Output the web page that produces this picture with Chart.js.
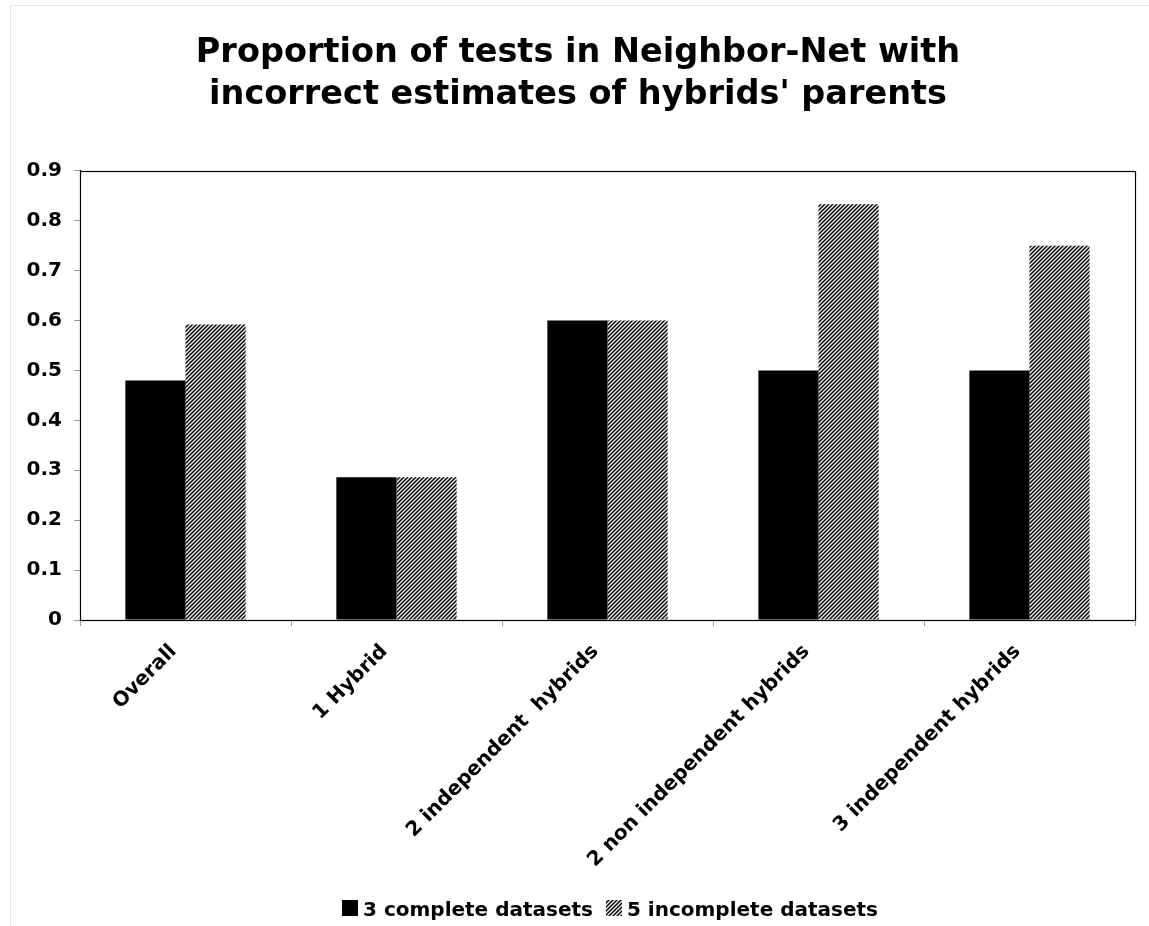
<!DOCTYPE html>
<html>
<head>
<meta charset="utf-8">
<script src="https://cdn.jsdelivr.net/npm/chart.js@4.4.1/dist/chart.umd.min.js"></script>
<style>
  html, body { margin: 0; padding: 0; background: #ffffff; }
  #wrap { width: 1149px; height: 926px; position: relative; }
</style>
</head>
<body>
<div id="wrap"><canvas id="chart" width="1149" height="926"></canvas></div>
<script>
// Categories, series and tick labels
const categories = [
  'Overall',
  '1 Hybrid',
  '2 independent  hybrids',
  '2 non independent hybrids',
  '3 independent hybrids'
];
const completeValues = [0.48, 0.286, 0.6, 0.5, 0.5];
const incompleteValues = [0.592, 0.286, 0.6, 0.833, 0.75];
const seriesNames = ['3 complete datasets', '5 incomplete datasets'];
const yTickLabels = ['0', '0.1', '0.2', '0.3', '0.4', '0.5', '0.6', '0.7', '0.8', '0.9'];
const titleLines = ['Proportion of tests in Neighbor-Net with', "incorrect estimates of hybrids' parents"];

const FONT = "'DejaVu Sans', Verdana, sans-serif";

// Diagonal hatch fill for the second series
function makeHatch() {
  const c = document.createElement('canvas');
  c.width = 4; c.height = 4;
  const g = c.getContext('2d');
  const shades = ['#000000', '#7a7a7a', '#e8e8e8', '#7a7a7a'];
  for (let y = 0; y < 4; y++) {
    for (let x = 0; x < 4; x++) {
      g.fillStyle = shades[(x + y) % 4];
      g.fillRect(x, y, 1, 1);
    }
  }
  return g.createPattern(c, 'repeat');
}

const ctx = document.getElementById('chart').getContext('2d');
const hatch = makeHatch();

// Frame around the whole figure and box around the plot area
const framePlugin = {
  id: 'frames',
  beforeDraw(chart) {
    const g = chart.ctx;
    g.save();
    g.fillStyle = '#ffffff';
    g.fillRect(0, 0, chart.width, chart.height);
    g.strokeStyle = '#e6e6e6';
    g.lineWidth = 1;
    g.strokeRect(10.5, 5.5, chart.width, chart.height);
    g.restore();
  },
  afterDatasetsDraw(chart) {
    const a = chart.chartArea;
    const g = chart.ctx;
    g.save();
    g.strokeStyle = '#000000';
    g.lineWidth = 1.2;
    g.strokeRect(Math.round(a.left) + 0.5, Math.round(a.top) + 0.5,
                 Math.round(a.right - a.left), Math.round(a.bottom - a.top));
    g.restore();
  }
};

// Legend row under the axis labels, built from the datasets
const legendRow = {
  id: 'legendRow',
  afterDraw(chart) {
    const g = chart.ctx;
    g.save();
    g.font = 'bold 20px ' + FONT;
    g.textBaseline = 'alphabetic';
    g.textAlign = 'left';
    let x = 342;
    const boxTop = 900, box = 16, baseline = 916;
    chart.data.datasets.forEach((ds) => {
      g.fillStyle = ds.backgroundColor;
      g.fillRect(x, boxTop, box, box);
      g.fillStyle = '#000000';
      g.fillText(ds.label, x + box + 5, baseline);
      x += box + 5 + g.measureText(ds.label).width + 13;
    });
    g.restore();
  }
};

new Chart(ctx, {
  type: 'bar',
  data: {
    labels: categories,
    datasets: [
      {
        label: seriesNames[0],
        data: completeValues,
        backgroundColor: '#000000',
        borderWidth: 0,
        categoryPercentage: 0.57,
        barPercentage: 1.0
      },
      {
        label: seriesNames[1],
        data: incompleteValues,
        backgroundColor: hatch,
        borderWidth: 0,
        categoryPercentage: 0.57,
        barPercentage: 1.0
      }
    ]
  },
  options: {
    responsive: false,
    animation: false,
    events: [],
    layout: { padding: { left: 21, right: 14, top: 32, bottom: 46 } },
    plugins: {
      title: {
        display: true,
        text: titleLines,
        color: '#000000',
        font: { family: FONT, size: 33.5, weight: 'bold', lineHeight: 1.25 },
        padding: { top: 0, bottom: 55 }
      },
      legend: { display: false },
      tooltip: { enabled: false }
    },
    scales: {
      x: {
        offset: true,
        grid: {
          display: true,
          offset: true,
          drawOnChartArea: false,
          drawTicks: true,
          tickLength: 6,
          color: '#999999'
        },
        border: { display: true, color: '#000000', width: 1 },
        ticks: {
          color: '#000000',
          font: { family: FONT, size: 20, weight: 'bold' },
          minRotation: 45,
          maxRotation: 45,
          autoSkip: false,
          padding: 14,
          labelOffset: -12
        },
        afterFit(scale) { scale.height = 260; }
      },
      y: {
        min: 0,
        max: 0.9,
        grid: {
          display: true,
          drawOnChartArea: false,
          drawTicks: true,
          tickLength: 6,
          color: '#999999'
        },
        border: { display: true, color: '#000000', width: 1 },
        ticks: {
          stepSize: 0.1,
          color: '#000000',
          font: { family: FONT, size: 20, weight: 'bold' },
          padding: 12,
          callback: (value, index) => yTickLabels[index]
        },
        afterFit(scale) { scale.width = 59; }
      }
    }
  },
  plugins: [framePlugin, legendRow]
});
</script>
</body>
</html>
